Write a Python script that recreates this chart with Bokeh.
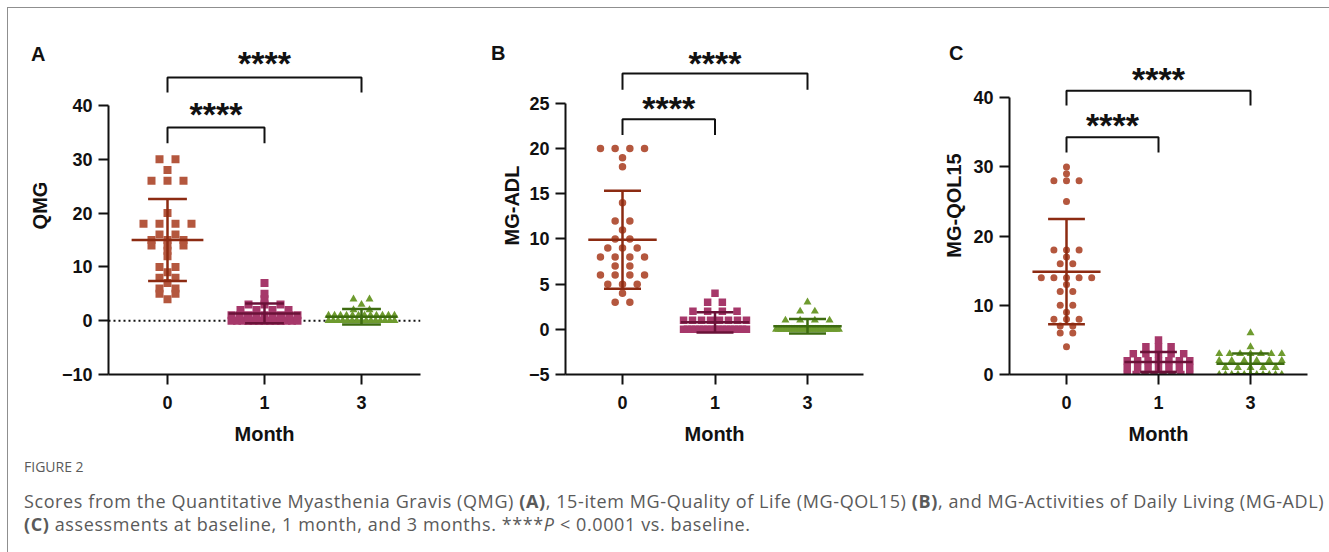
from collections import Counter
from bokeh.plotting import figure
from bokeh.layouts import row, column
from bokeh.models import Div, Label, Span, FixedTicker, Range1d, LinearAxis, CustomJSTickFormatter
from bokeh.embed import file_html
from bokeh.resources import INLINE

# ---------------- data ----------------
month_labels = ["0", "1", "3"]

qmg_month0 = [30, 30, 28, 26, 26, 26, 20, 18, 18, 18, 18, 16, 16, 15, 15, 15,
              14, 14, 14, 13, 12, 10, 10, 9, 8, 8, 7, 6, 6, 5, 5, 4]
qmg_month1 = [0] * 13 + [1] * 9 + [2] * 4 + [3] * 3 + [4, 5, 7]
qmg_month3 = [0] * 15 + [1] * 12 + [2] * 2 + [3] + [4] * 2
qmg_mean = [15.0, 1.36, 0.74]
qmg_sd = [7.6, 1.85, 1.45]

adl_month0 = [20, 20, 20, 20, 19, 18, 14, 12, 12, 11, 10, 10, 9, 9, 9, 8, 8, 8, 8,
              7, 7, 6, 6, 6, 6, 5, 5, 5, 4, 3, 3]
adl_month1 = [0] * 17 + [1] * 8 + [2] * 4 + [3] * 2 + [4]
adl_month3 = [0] * 25 + [1] * 4 + [2] * 2 + [3]
adl_mean = [9.91, 0.78, 0.35]
adl_sd = [5.42, 1.12, 0.8]

qol_month0 = [30, 29, 28, 28, 28, 25, 18, 18, 18, 17, 16, 16, 14, 14, 14, 14, 14,
              13, 12, 12, 10, 10, 9, 8, 8, 8, 7, 7, 6, 6, 4]
qol_month1 = [0] * 8 + [1] * 7 + [2] * 7 + [3] * 5 + [4] * 3 + [5]
qol_month3 = [0] * 11 + [1] * 5 + [2] * 6 + [3] * 7 + [4, 6]
qol_mean = [14.87, 1.8, 1.55]
qol_sd = [7.6, 1.45, 1.5]

caption_title = "FIGURE 2"
caption_html = ("Scores from the Quantitative Myasthenia Gravis (QMG) <b>(A)</b>, 15-item "
                "MG-Quality of Life (MG-QOL15) <b>(B)</b>, and MG-Activities of Daily Living (MG-ADL)<br>"
                "<b>(C)</b> assessments at baseline, 1 month, and 3 months. ****<i>P</i> &lt; 0.0001 vs. baseline.")

# ---------------- styling ----------------
FILL = ["#B4573E", "#A6386A", "#6E9B2F"]
LINE = ["#8C2B12", "#6A1238", "#3D6B10"]
FONT = "Liberation Sans"
FIG_H = 445
TOP = 28
ORIGIN = 8  # page offset of the figures (margin + border)


def swarm(vals, step, max_half):
    counts = Counter(vals)
    seen = {}
    xs = []
    for v in vals:
        n = counts[v]
        i = seen.get(v, 0)
        seen[v] = i + 1
        s = step if n < 2 else min(step, 2 * max_half / (n - 1))
        xs.append((i - (n - 1) / 2) * s)
    return xs


def make_panel(spec):
    w = spec["width"]
    left, right = spec["left"], spec["right"]
    bottom = ORIGIN + FIG_H - spec["frame_bottom_page"]
    fw = w - left - right
    fh = FIG_H - TOP - bottom
    cat = spec["cat_px"]
    x0 = -spec["off_px"] / cat
    x1 = x0 + fw / cat
    ppu = spec["ppu"]
    ylo = spec["ylo"]
    y1 = ylo + fh / ppu

    p = figure(width=w, height=FIG_H, x_range=Range1d(x0, x1), y_range=Range1d(ylo, y1),
               output_backend="svg", toolbar_location=None,
               min_border_left=left, min_border_right=right,
               min_border_top=TOP, min_border_bottom=bottom)
    p.outline_line_color = None
    p.xgrid.visible = False
    p.ygrid.visible = False
    p.background_fill_color = "white"
    p.border_fill_color = "white"

    for ax in (p.xaxis[0], p.yaxis[0]):
        ax.axis_line_width = 2
        ax.axis_line_color = "#111111"
        ax.major_tick_line_width = 2
        ax.major_tick_line_color = "#111111"
        ax.major_tick_out = 10
        ax.major_tick_in = 0
        ax.minor_tick_line_color = None
        ax.major_label_text_font = FONT
        ax.major_label_text_font_style = "bold"
        ax.major_label_text_font_size = "18px"
        ax.major_label_text_color = "#111111"
        ax.axis_label_text_font = FONT
        ax.axis_label_text_font_style = "bold"
        ax.axis_label_text_font_size = "20px"
        ax.axis_label_text_color = "#111111"
    p.xaxis.major_label_standoff = 11
    p.xaxis.axis_label_standoff = 11
    p.yaxis.major_label_standoff = 6
    p.yaxis.axis_label_standoff = spec["ylabel_standoff"]

    p.xaxis.ticker = FixedTicker(ticks=[0, 1, 2])
    p.xaxis.major_label_overrides = {0: month_labels[0], 1: month_labels[1], 2: month_labels[2]}
    p.xaxis.axis_label = "Month"
    p.yaxis.ticker = FixedTicker(ticks=spec["yticks"])
    p.yaxis.bounds = (spec["yticks"][0], spec["yticks"][-1])
    p.yaxis.axis_label = spec["ylabel"]

    if spec.get("zero_line"):
        p.add_layout(Span(location=0, dimension="width", line_color="#111111",
                          line_width=2, line_dash="2 3", level="underlay"))

    step = spec["step_px"] / cat
    for i, vals in enumerate(spec["groups"]):
        xs = [i + o for o in swarm(vals, step, 0.34)]
        p.scatter(xs, vals, marker=spec["markers"][i], size=spec["sizes"][i],
                  fill_color=FILL[i], line_color=None)

    # mean +/- SD
    for i in range(3):
        m, s = spec["mean"][i], spec["sd"][i]
        p.segment(x0=[i - 0.37, i - 0.2, i - 0.2, i], y0=[m, m + s, m - s, m - s],
                  x1=[i + 0.37, i + 0.2, i + 0.2, i], y1=[m, m + s, m - s, m + s],
                  line_color=LINE[i], line_width=2.5)

    # significance brackets
    for (a, b, h, leg, star_y) in spec["brackets"]:
        p.line([a, a, b, b], [leg, h, h, leg], line_color="#111111", line_width=2)
        p.add_layout(Label(x=(a + b) / 2, y=star_y, text="****", text_align="center",
                           text_baseline="alphabetic", text_font=FONT,
                           text_font_style="bold", text_font_size="34px",
                           text_color="#111111"))

    # panel letter: an outer, line-less axis carrying one label
    frame_top_page = ORIGIN + TOP
    ly = y1 - (53 - frame_top_page) / ppu
    ax = LinearAxis(ticker=FixedTicker(ticks=[ly]),
                    formatter=CustomJSTickFormatter(code="return '%s'" % spec["letter"]),
                    axis_line_color=None, major_tick_line_color=None,
                    minor_tick_line_color=None, major_tick_out=0, major_tick_in=0,
                    major_label_standoff=spec["letter_standoff"],
                    major_label_text_font=FONT, major_label_text_font_style="bold",
                    major_label_text_font_size="20px", major_label_text_color="#111111")
    p.add_layout(ax, "left")
    return p


specA = dict(letter="A", ylabel="QMG", groups=[qmg_month0, qmg_month1, qmg_month3],
             markers=["square", "square", "triangle"], sizes=[8, 8, 8],
             mean=qmg_mean, sd=qmg_sd, ylo=-10, yticks=[-10, 0, 10, 20, 30, 40],
             ppu=5.38, cat_px=97, off_px=59, width=452, left=100, right=40,
             frame_bottom_page=374, step_px=16, zero_line=True,
             ylabel_standoff=8, letter_standoff=-20,
             brackets=[(0, 2, 45.2, 42.4, 47.81), (0, 1, 35.9, 33.0, 38.46)])
specB = dict(letter="B", ylabel="MG-ADL", groups=[adl_month0, adl_month1, adl_month3],
             markers=["circle", "square", "triangle"], sizes=[7.5, 7.5, 8],
             mean=adl_mean, sd=adl_sd, ylo=-5, yticks=[-5, 0, 5, 10, 15, 20, 25],
             ppu=9.17, cat_px=92.5, off_px=57, width=455, left=105, right=52,
             frame_bottom_page=379, step_px=14.7, zero_line=False,
             ylabel_standoff=3, letter_standoff=-8,
             brackets=[(0, 2, 28.3, 26.5, 29.47), (0, 1, 23.25, 21.5, 24.45)])
specC = dict(letter="C", ylabel="MG-QOL15", groups=[qol_month0, qol_month1, qol_month3],
             markers=["circle", "square", "triangle"], sizes=[7, 7.5, 8],
             mean=qol_mean, sd=qol_sd, ylo=0, yticks=[0, 10, 20, 30, 40],
             ppu=7.0, cat_px=92, off_px=57, width=406, left=94, right=14,
             frame_bottom_page=378, step_px=12.6, zero_line=False,
             ylabel_standoff=5, letter_standoff=-23,
             brackets=[(0, 2, 41.0, 38.9, 42.71), (0, 1, 34.3, 32.1, 36.04)])

pA = make_panel(specA)
pB = make_panel(specB)
pC = make_panel(specC)

caption = Div(text=(
    "<div style=\"font-family:'Open Sans',sans-serif;color:#5a5a5a;padding:0 0 0 11px;white-space:nowrap;\">"
    "<div style=\"font-size:14px;line-height:18px;\">" + caption_title + "</div>"
    "<div style=\"font-size:18px;letter-spacing:0.6px;line-height:23px;margin-top:14px;\">"
    + caption_html + "</div></div>"),
    width=1313, height=95)

layout = column(row(pA, pB, pC), caption,
                styles={"margin-top": "7px", "margin-left": "7px",
                        "padding-right": "7px", "padding-bottom": "3px",
                        "border-top": "1px solid #8f8f8f", "border-left": "1px solid #8f8f8f"})

open("out.html", "w").write(file_html(layout, INLINE))
